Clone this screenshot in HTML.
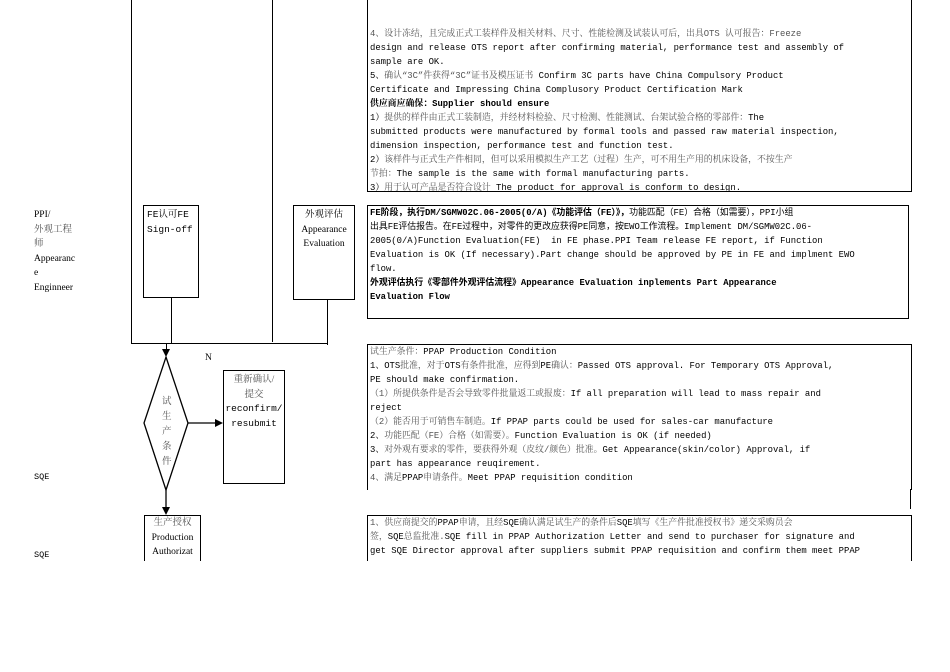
<!DOCTYPE html>
<html><head><meta charset="utf-8"><style>
body{margin:0;background:#fff;width:950px;height:672px;position:relative;overflow:hidden;font-family:"Liberation Mono","Noto Serif CJK SC",monospace;color:#000}
.a{position:absolute}
.l{position:absolute;background:#000}
.t{position:absolute;left:370px;font-size:8.9px;white-space:nowrap;line-height:14px}
.s{font-family:"Liberation Mono","Noto Sans CJK SC",monospace;font-size:8.9px}
.b{font-weight:bold}
.lab{position:absolute;left:34px;font-family:"Liberation Serif","Noto Serif CJK SC",serif;font-size:9.5px;line-height:14.5px}
.box{position:absolute;border:1.3px solid #000;background:#fff;text-align:center;font-size:9.5px;line-height:14.5px;font-family:"Liberation Serif","Noto Serif CJK SC",serif}
</style></head><body>
<div class="l" style="left:131px;top:0;width:1.3px;height:344px"></div>
<div class="l" style="left:272px;top:0;width:1.3px;height:342px"></div>
<div class="l" style="left:131px;top:343px;width:197px;height:1.3px"></div>
<div class="l" style="left:171px;top:297px;width:1.3px;height:47px"></div>
<div class="l" style="left:327px;top:297px;width:1.3px;height:48px"></div>
<div class="l" style="left:166px;top:343px;width:1.3px;height:8px"></div>
<div class="a" style="left:162px;top:349px;width:0;height:0;border-left:4px solid transparent;border-right:4px solid transparent;border-top:8px solid #000"></div>
<div class="box" style="left:143px;top:205px;text-align:left;font-family:'Liberation Mono','Noto Serif CJK SC',monospace;padding-left:3px;padding-top:2px;box-sizing:border-box;width:56px;height:93px">FE认可FE<br>Sign-off</div>
<div class="box" style="left:293px;top:205px;width:60px;height:91px;padding-top:2px">外观评估<br>Appearance<br>Evaluation</div>
<svg class="a" style="left:0;top:0" width="950" height="672">
<polygon points="166,357 188,423 166,490 144,423" fill="none" stroke="#000" stroke-width="1.3"/>
<line x1="188" y1="423" x2="216" y2="423" stroke="#000" stroke-width="1.3"/>
<polygon points="215,419 223,423 215,427" fill="#000"/>
<line x1="166" y1="490" x2="166" y2="508" stroke="#000" stroke-width="1.3"/>
<polygon points="162,507 166,515 170,507" fill="#000"/>
</svg>
<div class="a" style="left:162px;top:393px;font-size:9.5px;line-height:15px;color:#555;font-family:'Noto Serif CJK SC',serif">试<br>生<br>产<br>条<br>件</div>
<div class="a" style="left:205px;top:353px;font-size:9.5px;font-family:'Liberation Serif',serif">N</div>
<div class="box" style="left:223px;top:370px;width:60px;height:110px;font-size:9.5px;padding-top:2px"><span style="color:#555">重新确认/<br>提交</span><br><span style="font-family:'Liberation Mono',monospace">reconfirm/<br>resubmit</span></div>
<div class="box" style="left:144px;top:515px;width:55px;height:50px;border-bottom:none"><span style="color:#555">生产授权</span><br>Production<br>Authorizat</div>
<div class="lab" style="top:208px">PPI/<br><span style="color:#555">外观工程<br>师</span><br>Appearanc<br>e<br>Enginneer</div>
<div class="lab" style="top:470px;font-family:'Liberation Mono',monospace;font-size:8.5px">SQE</div>
<div class="lab" style="top:548px;font-family:'Liberation Mono',monospace;font-size:8.5px">SQE</div>
<div class="a" style="left:367px;top:-2px;width:543px;height:193px;border:1.3px solid #000;border-top:none"></div>
<div class="a" style="left:367px;top:205px;width:540px;height:112px;border:1.3px solid #000"></div>
<div class="a" style="left:367px;top:344px;width:543px;height:145px;border-left:1.3px solid #000;border-top:1.3px solid #000;border-right:1.3px solid #000"></div>
<div class="l" style="left:910px;top:489px;width:1.3px;height:20px"></div>
<div class="a" style="left:367px;top:515px;width:543px;height:50px;border-left:1.3px solid #000;border-top:1.3px solid #000;border-right:1.3px solid #000"></div>
<div class="t" style="top:27px;color:#555">4、设计冻结，且完成正式工装样件及相关材料、尺寸、性能检测及试装认可后，出具OTS 认可报告：Freeze</div>
<div class="t" style="top:41px">design and release OTS report after confirming material, performance test and assembly of</div>
<div class="t" style="top:55px">sample are OK.</div>
<div class="t" style="top:69px">5、<span style="color:#555">确认“3C”件获得“3C”证书及模压证书</span> Confirm 3C parts have China Compulsory Product</div>
<div class="t" style="top:83px">Certificate and Impressing China Complusory Product Certification Mark</div>
<div class="t b" style="top:97px">供应商应确保：Supplier should ensure</div>
<div class="t" style="top:111px">1）<span style="color:#555">提供的样件由正式工装制造，并经材料检验、尺寸检测、性能测试、台架试验合格的零部件：</span>The</div>
<div class="t" style="top:125px">submitted products were manufactured by formal tools and passed raw material inspection,</div>
<div class="t" style="top:139px">dimension inspection, performance test and function test.</div>
<div class="t" style="top:153px">2）<span style="color:#555">该样件与正式生产件相同，但可以采用模拟生产工艺（过程）生产，可不用生产用的机床设备，不按生产</span></div>
<div class="t" style="top:167px"><span style="color:#555">节拍：</span>The sample is the same with formal manufacturing parts.</div>
<div class="t" style="top:181px">3）<span style="color:#555">用于认可产品是否符合设计</span> The product for approval is conform to design.</div>
<div class="t s" style="top:206px"><b>FE阶段，执行DM/SGMW02C.06-2005(0/A)《功能评估（FE）》，</b>功能匹配（FE）合格（如需要），PPI小组</div>
<div class="t s" style="top:220px">出具FE评估报告。在FE过程中，对零件的更改应获得PE同意，按EWO工作流程。Implement DM/SGMW02C.06-</div>
<div class="t s" style="top:234px">2005(0/A)Function Evaluation(FE)&nbsp; in FE phase.PPI Team release FE report, if Function</div>
<div class="t s" style="top:248px">Evaluation is OK (If necessary).Part change should be approved by PE in FE and implment EWO</div>
<div class="t s" style="top:262px">flow.</div>
<div class="t s b" style="top:276px">外观评估执行《零部件外观评估流程》Appearance Evaluation inplements Part Appearance</div>
<div class="t s b" style="top:290px">Evaluation Flow</div>
<div class="t" style="top:345px"><span style="color:#555">试生产条件：</span>PPAP Production Condition</div>
<div class="t" style="top:359px">1、OTS<span style="color:#555">批准，对于</span>OTS<span style="color:#555">有条件批准，应得到</span>PE<span style="color:#555">确认：</span>Passed OTS approval. For Temporary OTS Approval,</div>
<div class="t" style="top:373px">PE should make confirmation.</div>
<div class="t" style="top:387px"><span style="color:#555">（1）所提供条件是否会导致零件批量返工或报废：</span>If all preparation will lead to mass repair and</div>
<div class="t" style="top:401px">reject</div>
<div class="t" style="top:415px"><span style="color:#555">（2）能否用于可销售车制造。</span>If PPAP parts could be used for sales-car manufacture</div>
<div class="t" style="top:429px">2、<span style="color:#555">功能匹配（FE）合格（如需要）。</span>Function Evaluation is OK (if needed)</div>
<div class="t" style="top:443px">3、<span style="color:#555">对外观有要求的零件，要获得外观（皮纹/颜色）批准。</span>Get Appearance(skin/color) Approval, if</div>
<div class="t" style="top:457px">part has appearance reuqirement.</div>
<div class="t" style="top:471px"><span style="color:#555">4、满足</span>PPAP<span style="color:#555">申请条件。</span>Meet PPAP requisition condition</div>
<div class="t" style="top:516px"><span style="color:#555">1、供应商提交的</span>PPAP<span style="color:#555">申请，且经</span>SQE<span style="color:#555">确认满足试生产的条件后</span>SQE<span style="color:#555">填写《生产件批准授权书》递交采购员会</span></div>
<div class="t" style="top:530px"><span style="color:#555">签，</span>SQE<span style="color:#555">总监批准.</span>SQE fill in PPAP Authorization Letter and send to purchaser for signature and</div>
<div class="t" style="top:544px">get SQE Director approval after suppliers submit PPAP requisition and confirm them meet PPAP</div>
<div class="a" style="left:0;top:561px;width:950px;height:111px;background:#fff"></div>
</body></html>
